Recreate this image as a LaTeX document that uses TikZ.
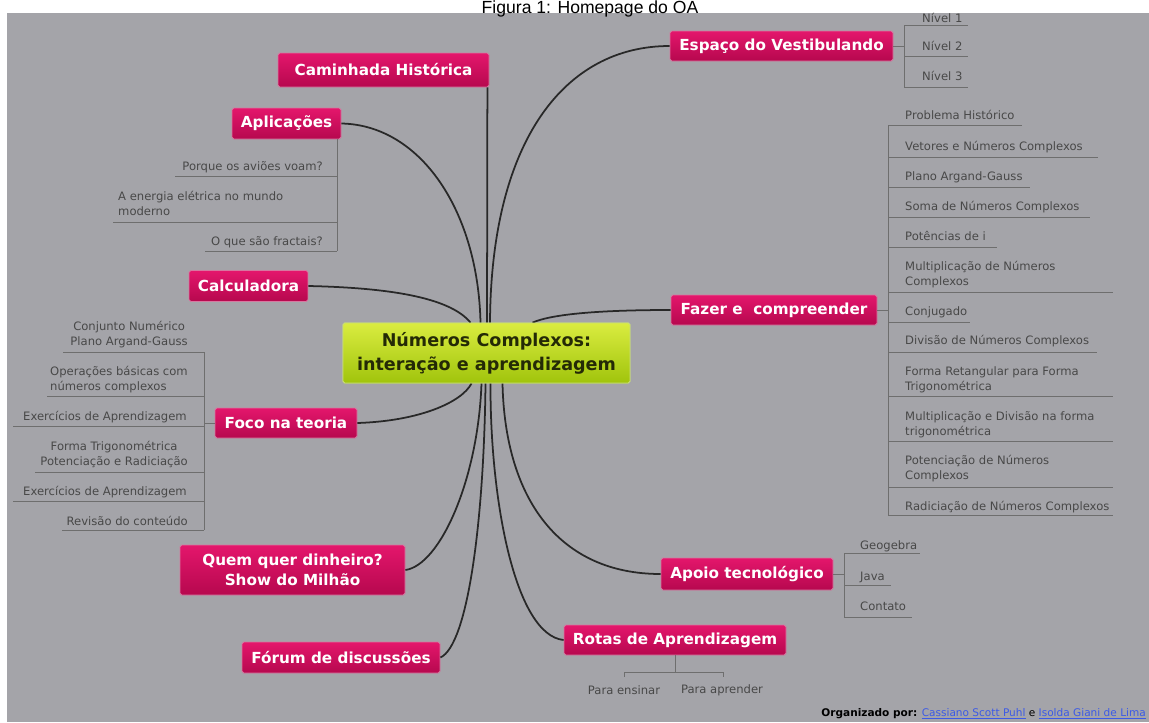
\documentclass[tikz,border=0pt]{standalone}
\usepackage{fontspec}
\setmainfont{DejaVu Sans}
\newfontfamily\titlefont{Liberation Sans}
\usetikzlibrary{calc}
\definecolor{bg}{RGB}{164,164,169}
\definecolor{magtop}{RGB}{228,22,108}
\definecolor{magbot}{RGB}{182,8,78}
\definecolor{maghalo}{RGB}{214,120,160}
\definecolor{cntop}{RGB}{218,236,64}
\definecolor{cnbot}{RGB}{160,196,12}
\definecolor{cnhalo}{RGB}{200,220,120}
\definecolor{cntext}{RGB}{36,42,6}
\definecolor{wirecol}{RGB}{40,40,40}
\definecolor{subtext}{RGB}{72,72,72}
\definecolor{rulecol}{RGB}{110,110,110}
\definecolor{linkblue}{RGB}{60,90,230}
\begin{document}
\begin{tikzpicture}[x=0.03cm,y=-0.03cm,
  topic/.style n args={2}{rectangle, rounded corners=1.5pt, top color=magtop, bottom color=magbot,
    draw=maghalo, line width=0.7pt, text=white, font=\bfseries\fontsize{13}{17}\selectfont,
    align=center, inner sep=0pt, minimum width=#1*0.03cm, minimum height=#2*0.03cm},
  cnode/.style={rectangle, rounded corners=1.5pt, top color=cntop, bottom color=cnbot,
    draw=cnhalo, line width=0.7pt, text=cntext, font=\bfseries\fontsize{15}{20.5}\selectfont,
    align=center, inner sep=0pt, minimum width=287*0.03cm, minimum height=60*0.03cm},
  subitem/.style={font=\fontsize{9.9}{12.8}\selectfont, text=subtext, inner sep=0pt},
  ruleline/.style={draw=rulecol, line width=0.6pt},
  wire/.style={draw=wirecol, line width=1.5pt}]
\useasboundingbox (0,0) rectangle (1149,722);
\clip (0,0) rectangle (1149,722);
\fill[white] (0,0) rectangle (1149,722);
\fill[bg] (7,13) rectangle (1149,722);
\node[font=\titlefont\fontsize{15}{15}\selectfont, anchor=base, inner sep=0pt] (title) at (590,13.5) {Figura 1: Homepage do OA};

% curved connectors (drawn first, boxes on top)
\path (486.5,353) coordinate (cnc);
\node[cnode] (cn) at (cnc) {Números Complexos:\\interação e aprendizagem};
\node[topic={211}{34}] (cam) at (383.5,70) {Caminhada Histórica};
\node[topic={109}{31}] (apl) at (286.5,123.5) {Aplicações};
\node[topic={119}{31}] (calc) at (248.5,286) {Calculadora};
\node[topic={142}{30}] (foco) at (286,423) {Foco na teoria};
\node[topic={225}{50}] (quem) at (292.5,570) {Quem quer dinheiro?\\Show do Milhão};
\node[topic={198}{31}] (forum) at (341,657.5) {Fórum de discussões};
\node[topic={223}{30}] (esp) at (781.5,46) {Espaço do Vestibulando};
\node[topic={206}{30}] (faz) at (774,310) {Fazer e\ \ compreender};
\node[topic={172}{32}] (apo) at (747,574) {Apoio tecnológico};
\node[topic={222}{30}] (rot) at (675,640) {Rotas de Aprendizagem};

\draw[wire] (esp.west) .. controls (565,46) and (491,140) .. ($(cn.north)+(3.5,0)$);
\draw[wire] ($(cam.south east)+(-2,0)$) -- ($(cn.north)+(0.5,0)$);
\draw[wire] (apl.east) .. controls (420,125) and (478,210) .. ($(cn.north)+(-6,0)$);
\draw[wire] (calc.east) .. controls (400,288) and (452,300) .. ($(cn.north)+(-16,0)$);
\draw[wire] (faz.west) .. controls (600,310) and (552,314) .. ($(cn.north)+(46,0)$);
\draw[wire] (foco.east) .. controls (420,421) and (462,402) .. ($(cn.south)+(-15,0)$);
\draw[wire] (quem.east) .. controls (440,565) and (478,480) .. ($(cn.south)+(-5,0)$);
\draw[wire] (forum.east) .. controls (468,645) and (484,520) .. ($(cn.south)+(-1,0)$);
\draw[wire] (rot.west) .. controls (515,635) and (490,500) .. ($(cn.south)+(4,0)$);
\draw[wire] (apo.west) .. controls (560,574) and (505,500) .. ($(cn.south)+(16,0)$);
\node[cnode] at (cnc) {Números Complexos:\\interação e aprendizagem};

% Espaço do Vestibulando list
\coordinate (espbar) at (904,46);
\draw[ruleline] (esp.east) -- (espbar);
\draw[ruleline] (904,25) -- (904,87);
\node[subitem, anchor=west] (n1) at (922,18) {Nível 1};
\node[subitem, anchor=west] (n2) at (922,46) {Nível 2};
\node[subitem, anchor=west] (n3) at (922,76) {Nível 3};
\draw[ruleline] (904,25) -- (968,25);
\draw[ruleline] (904,56) -- (968,56);
\draw[ruleline] (904,87) -- (968,87);

% Fazer e compreender list
\coordinate (fazbar) at (888,310);
\draw[ruleline] (faz.east) -- (fazbar);
\draw[ruleline] (888,125) -- (888,515);
\node[subitem, anchor=west] (f1) at (905,115) {Problema Histórico};
\node[subitem, anchor=west] (f2) at (905,147) {Vetores e Números Complexos};
\node[subitem, anchor=west] (f3) at (905,177) {Plano Argand-Gauss};
\node[subitem, anchor=west] (f4) at (905,207) {Soma de Números Complexos};
\node[subitem, anchor=west] (f5) at (905,236) {Potências de i};
\node[subitem, anchor=west, align=left] (f6) at (905,274.5) {Multiplicação de Números\\Complexos};
\node[subitem, anchor=west] (f7) at (905,312) {Conjugado};
\node[subitem, anchor=west] (f8) at (905,341) {Divisão de Números Complexos};
\node[subitem, anchor=west, align=left] (f9) at (905,379.5) {Forma Retangular para Forma\\Trigonométrica};
\node[subitem, anchor=west, align=left] (f10) at (905,424.5) {Multiplicação e Divisão na forma\\trigonométrica};
\node[subitem, anchor=west, align=left] (f11) at (905,469) {Potenciação de Números\\Complexos};
\node[subitem, anchor=west] (f12) at (905,507) {Radiciação de Números Complexos};
\draw[ruleline] (888,125) -- (1022,125);
\draw[ruleline] (888,157) -- (1098,157);
\draw[ruleline] (888,187) -- (1030,187);
\draw[ruleline] (888,217) -- (1090,217);
\draw[ruleline] (888,247) -- (997,247);
\draw[ruleline] (888,292) -- (1113,292);
\draw[ruleline] (888,322) -- (970,322);
\draw[ruleline] (888,352) -- (1097,352);
\draw[ruleline] (888,396) -- (1113,396);
\draw[ruleline] (888,441) -- (1113,441);
\draw[ruleline] (888,487) -- (1113,487);
\draw[ruleline] (888,515) -- (1113,515);

% Aplicações list
\draw[ruleline] (apl.south -| 337,0) -- (337,251);
\node[subitem, anchor=east] (a1) at (323,167) {Porque os aviões voam?};
\node[subitem, anchor=west, align=left] (a2) at (118,203.5) {A energia elétrica no mundo\\moderno};
\node[subitem, anchor=east] (a3) at (323,242) {O que são fractais?};
\draw[ruleline] (175,176) -- (337,176);
\draw[ruleline] (113,222) -- (337,222);
\draw[ruleline] (205,251) -- (337,251);

% Foco na teoria list
\coordinate (focobar) at (204,423);
\draw[ruleline] (foco.west) -- (focobar);
\draw[ruleline] (204,352) -- (204,530);
\node[subitem, anchor=east, align=center] (t1) at (188,334.5) {Conjunto Numérico\\Plano Argand-Gauss};
\node[subitem, anchor=east, align=left] (t2) at (188,379.5) {Operações básicas com\\números complexos};
\node[subitem, anchor=east] (t3) at (187,417) {Exercícios de Aprendizagem};
\node[subitem, anchor=east, align=center] (t4) at (188,454.5) {Forma Trigonométrica\\Potenciação e Radiciação};
\node[subitem, anchor=east] (t5) at (187,492) {Exercícios de Aprendizagem};
\node[subitem, anchor=east] (t6) at (188,521) {Revisão do conteúdo};
\draw[ruleline] (63,352) -- (204,352);
\draw[ruleline] (47,396) -- (204,396);
\draw[ruleline] (13,426) -- (204,426);
\draw[ruleline] (35,472) -- (204,472);
\draw[ruleline] (13,501) -- (204,501);
\draw[ruleline] (62,530) -- (204,530);

% Apoio tecnológico list
\coordinate (apobar) at (844,574);
\draw[ruleline] (apo.east) -- (apobar);
\draw[ruleline] (844,553) -- (844,617);
\node[subitem, anchor=west] (g1) at (860,546) {Geogebra};
\node[subitem, anchor=west] (g2) at (860,577) {Java};
\node[subitem, anchor=west] (g3) at (860,606) {Contato};
\draw[ruleline] (844,553) -- (920,553);
\draw[ruleline] (844,585) -- (891,585);
\draw[ruleline] (844,617) -- (912,617);

% Rotas de Aprendizagem
\coordinate (rotfork) at (675,672);
\draw[ruleline] (rot.south) -- (rotfork);
\draw[ruleline] (624,677) -- (624,672) -- (723,672) -- (723,677);
\node[subitem] (r1) at (624,690) {Para ensinar};
\node[subitem] (r2) at (722,690) {Para aprender};

% credits
\node[anchor=base east, inner sep=0pt, font=\fontsize{9}{11}\selectfont] (cred) at (1146,716)
  {\textbf{Organizado por:} \textcolor{linkblue}{\underline{Cassiano Scott Puhl}} e \textcolor{linkblue}{\underline{Isolda Giani de Lima}}};
\end{tikzpicture}
\end{document}
